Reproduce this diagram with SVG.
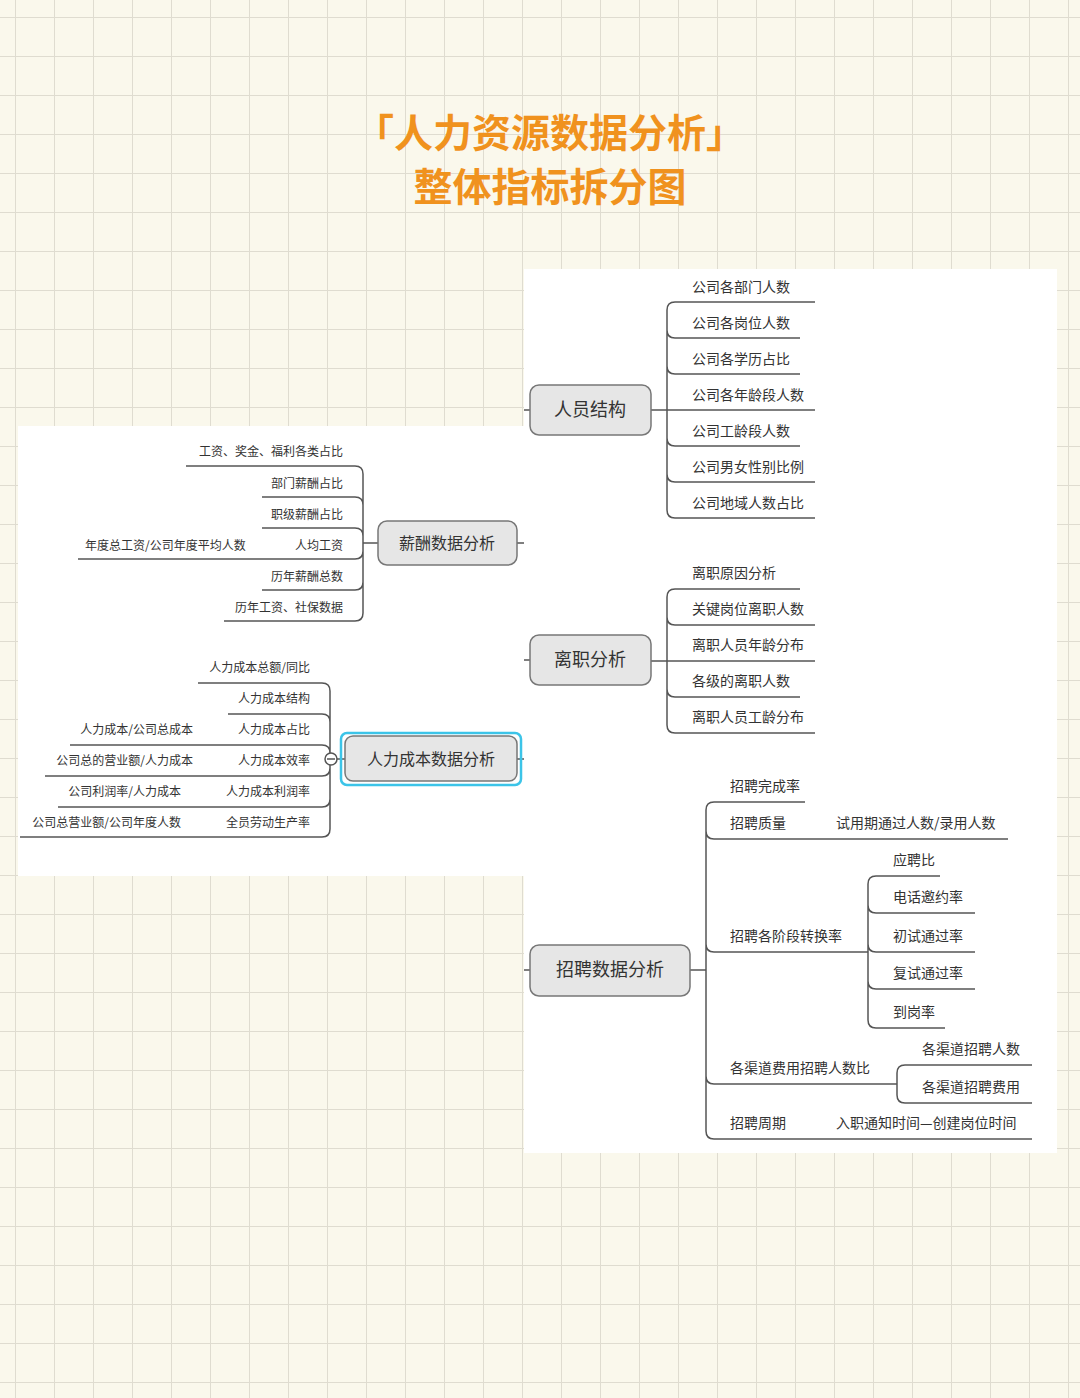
<svg xmlns="http://www.w3.org/2000/svg" width="1080" height="1398" viewBox="0 0 1080 1398">
<defs>
<pattern id="grid" x="15" y="17" width="39" height="39" patternUnits="userSpaceOnUse">
<path d="M0 0 H39 M0 0 V39" stroke="#dfdcd0" stroke-width="2" fill="none"/>
</pattern>
<style>
.t{font-family:"Noto Sans CJK SC","Liberation Sans",sans-serif;fill:#333;font-size:14px}
.n{font-family:"Noto Sans CJK SC","Liberation Sans",sans-serif;fill:#333;font-size:18px;text-anchor:middle}
.box{fill:#e6e6e6;stroke:#777;stroke-width:1.5}
.l{fill:none;stroke:#555;stroke-width:1.5}
.r{text-anchor:end}
.title{font-family:"Noto Sans CJK SC","Liberation Sans",sans-serif;fill:#f0921e;font-size:39px;font-weight:bold;text-anchor:middle}
</style>
</defs>
<rect width="1080" height="1398" fill="#faf8ec"/>
<rect width="1080" height="1398" fill="url(#grid)"/>
<text class="title" x="550" y="147">「人力资源数据分析」</text>
<text class="title" x="550" y="201">整体指标拆分图</text>
<rect x="524" y="269" width="533" height="884" fill="#fff"/>
<rect x="18" y="426" width="506" height="450" fill="#fff"/>

<g id="connectors" class="l">
<path d="M524 410 H530 M651 410 H815 M815 302 H675 Q667 302 667 310 V510 Q667 518 675 518 H815 M667 330 Q667 338 675 338 H800 M667 366 Q667 374 675 374 H800 M667 438 Q667 446 675 446 H800 M667 474 Q667 482 675 482 H815"/>
<path d="M524 660 H530 M651 661 H815 M800 589 H675 Q667 589 667 597 V725 Q667 733 675 733 H815 M667 617 Q667 625 675 625 H815 M667 689 Q667 697 675 697 H800"/>
<path d="M524 970 H530 M690 970 H706 M805 802 H714 Q706 802 706 810 V1131 Q706 1139 714 1139 H1032 M706 831 Q706 839 714 839 H1008 M706 944 Q706 952 714 952 H868 M706 1076 Q706 1084 714 1084 H897"/>
<path d="M940 876 H876 Q868 876 868 884 V1020 Q868 1028 876 1028 H945 M868 905 Q868 913 876 913 H975 M868 944 Q868 952 876 952 H975 M868 981 Q868 989 876 989 H975"/>
<path d="M1032 1065 H905 Q897 1065 897 1073 V1095 Q897 1103 905 1103 H1032"/>
<path d="M363 543 H378 M517 543 H524 M186 466 H355 Q363 466 363 474 V613 Q363 621 355 621 H224 M262 497 H355 Q363 497 363 505 M262 528 H355 Q363 528 363 536 M78 559 H355 Q363 559 363 551 M262 590 H355 Q363 590 363 582"/>
<path d="M330 759 H345 M517 759 H524 M198 683 H322 Q330 683 330 691 V829 Q330 837 322 837 H20 M228 714 H322 Q330 714 330 722 M70 745 H322 Q330 745 330 753 M45 776 H322 Q330 776 330 768 M58 807 H322 Q330 807 330 799"/>
<circle cx="331" cy="759" r="6" fill="#fff"/>
<path d="M327 759 H335"/>
</g>

<g id="n1"><rect class="box" x="530" y="385" width="121" height="50" rx="9"/><text class="n" x="590" y="416">人员结构</text></g>
<g id="n1c" class="t">
<text x="692" y="292">公司各部门人数</text><text x="692" y="328">公司各岗位人数</text><text x="692" y="364">公司各学历占比</text><text x="692" y="400">公司各年龄段人数</text><text x="692" y="436">公司工龄段人数</text><text x="692" y="472">公司男女性别比例</text><text x="692" y="508">公司地域人数占比</text>
</g>
<g id="n2"><rect class="box" x="530" y="635" width="121" height="50" rx="9"/><text class="n" x="590" y="666">离职分析</text></g>
<g id="n2c" class="t">
<text x="692" y="578">离职原因分析</text><text x="692" y="614">关键岗位离职人数</text><text x="692" y="650">离职人员年龄分布</text><text x="692" y="686">各级的离职人数</text><text x="692" y="722">离职人员工龄分布</text>
</g>
<g id="n3"><rect class="box" x="530" y="945" width="160" height="51" rx="9"/><text class="n" x="610" y="976">招聘数据分析</text></g>
<g id="n3c" class="t">
<text x="730" y="791">招聘完成率</text><text x="730" y="828">招聘质量</text><text x="836" y="828">试用期通过人数/录用人数</text>
<text x="730" y="941">招聘各阶段转换率</text>
<text x="893" y="865">应聘比</text><text x="893" y="902">电话邀约率</text><text x="893" y="941">初试通过率</text><text x="893" y="978">复试通过率</text><text x="893" y="1017">到岗率</text>
<text x="730" y="1073">各渠道费用招聘人数比</text><text x="922" y="1054">各渠道招聘人数</text><text x="922" y="1092">各渠道招聘费用</text>
<text x="730" y="1128">招聘周期</text><text x="836" y="1128">入职通知时间—创建岗位时间</text>
</g>
<g id="n4"><rect class="box" x="378" y="521" width="139" height="44" rx="9"/><text class="n" x="447" y="549" style="font-size:16px">薪酬数据分析</text></g>
<g id="n4c" class="t" style="font-size:12px">
<text class="r" x="343" y="456">工资、奖金、福利各类占比</text><text class="r" x="343" y="488">部门薪酬占比</text><text class="r" x="343" y="519">职级薪酬占比</text><text class="r" x="343" y="550">人均工资</text><text x="85" y="550">年度总工资/公司年度平均人数</text><text class="r" x="343" y="581">历年薪酬总数</text><text class="r" x="343" y="612">历年工资、社保数据</text>
</g>
<g id="n5"><rect x="341" y="733" width="180" height="52" rx="6" fill="none" stroke="#3cc4e8" stroke-width="2.5"/><rect class="box" x="345" y="736" width="172" height="45" rx="8"/><text class="n" x="431" y="765" style="font-size:16px">人力成本数据分析</text></g>
<g id="n5c" class="t" style="font-size:12px">
<text class="r" x="310" y="672">人力成本总额/同比</text><text class="r" x="310" y="703">人力成本结构</text><text class="r" x="310" y="734">人力成本占比</text><text class="r" x="193" y="734">人力成本/公司总成本</text><text class="r" x="310" y="765">人力成本效率</text><text class="r" x="193" y="765">公司总的营业额/人力成本</text><text class="r" x="310" y="796">人力成本利润率</text><text class="r" x="181" y="796">公司利润率/人力成本</text><text class="r" x="310" y="827">全员劳动生产率</text><text class="r" x="181" y="827">公司总营业额/公司年度人数</text>
</g>
</svg>
